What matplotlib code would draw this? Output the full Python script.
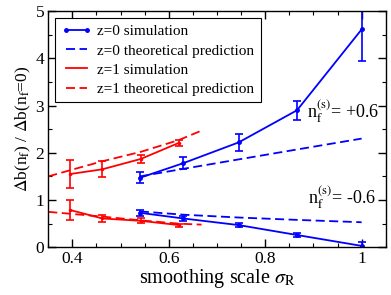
import matplotlib
matplotlib.use('Agg')
import matplotlib.pyplot as plt
from matplotlib.lines import Line2D
import numpy as np

plt.rcParams['font.family'] = ['Liberation Serif', 'DejaVu Serif']
plt.rcParams['mathtext.fontset'] = 'stix'

# z=0 simulation (blue), x = smoothing scale
x_z0 = [0.54, 0.63, 0.745, 0.866, 1.0]
z0_pos = [1.47, 1.78, 2.22, 2.90, 4.61]
z0_pos_err = [0.12, 0.13, 0.18, 0.20, 0.66]
z0_neg = [0.73, 0.61, 0.47, 0.26, 0.03]
z0_neg_err = [0.06, 0.06, 0.04, 0.05, 0.08]

# z=0 theoretical prediction
x_z0_th = [0.54, 0.63, 0.745, 0.866, 1.0]
z0_pos_th = [1.50, 1.66, 1.86, 2.07, 2.30]
z0_neg_th = [0.76, 0.69, 0.63, 0.58, 0.53]

# z=1 simulation (red)
x_z1 = [0.395, 0.462, 0.542, 0.621]
z1_pos = [1.55, 1.65, 1.87, 2.21]
z1_pos_err = [0.30, 0.17, 0.09, 0.06]
z1_neg = [0.79, 0.61, 0.56, 0.47]
z1_neg_err = [0.21, 0.08, 0.05, 0.03]

# z=1 theoretical prediction
x_z1_th = [0.35, 0.395, 0.462, 0.542, 0.621, 0.668]
z1_pos_th = [1.50, 1.63, 1.82, 2.02, 2.27, 2.47]
z1_neg_th = [0.75, 0.71, 0.65, 0.57, 0.50, 0.48]

labels = ['z=0 simulation', 'z=0 theoretical prediction',
          'z=1 simulation', 'z=1 theoretical prediction']

blue = '#0000ff'
red = '#ff0000'
dash = (0, (5, 2.5))

fig = plt.figure(figsize=(3.91, 2.95), dpi=100)
ax = fig.add_axes([0.1235, 0.1617, 0.863, 0.801])

lw = 1.3
eb = dict(capsize=2.8, elinewidth=1.2, capthick=1.2)

ax.errorbar(x_z0, z0_pos, yerr=z0_pos_err, color=blue, lw=lw, marker='o', ms=2.5, **eb)
ax.errorbar(x_z0, z0_neg, yerr=z0_neg_err, color=blue, lw=lw, marker='o', ms=2.5, **eb)
ax.plot(x_z0_th, z0_pos_th, color=blue, lw=lw, linestyle=dash)
ax.plot(x_z0_th, z0_neg_th, color=blue, lw=lw, linestyle=dash)

ax.errorbar(x_z1, z1_pos, yerr=z1_pos_err, color=red, lw=lw, marker='o', ms=1.5, **eb)
ax.errorbar(x_z1, z1_neg, yerr=z1_neg_err, color=red, lw=lw, marker='o', ms=1.5, **eb)
ax.plot(x_z1_th, z1_pos_th, color=red, lw=lw, linestyle=dash)
ax.plot(x_z1_th, z1_neg_th, color=red, lw=lw, linestyle=dash)

ax.set_xlim(0.35, 1.05)
ax.set_ylim(0, 5)
ax.set_xticks([0.4, 0.6, 0.8, 1.0])
ax.set_xticklabels(['0.4', '0.6', '0.8', '1'])
ax.set_xticks(np.arange(0.35, 1.051, 0.05), minor=True)
ax.set_yticks([0, 1, 2, 3, 4, 5])
ax.set_yticklabels(['0', '1', '2', '3', '4', '5'])
ax.set_yticks(np.arange(0, 5.01, 0.5), minor=True)
ax.tick_params(which='both', direction='in', top=True, right=True, labelsize=12.5, pad=3)
ax.tick_params(which='major', length=6, width=1)
ax.tick_params(which='minor', length=3, width=0.8)
for s in ax.spines.values():
    s.set_linewidth(1.0)

ax.set_xlabel(r'smoothing scale $\sigma_\mathrm{R}$', fontsize=14.5, labelpad=0)
ax.set_ylabel(r'$\Delta$b(n$_\mathrm{f}$) / $\Delta$b(n$_\mathrm{f}$=0)', fontsize=12.5, labelpad=2)

handles = [
    Line2D([], [], color=blue, lw=lw, marker='o', ms=2.5),
    Line2D([], [], color=blue, lw=lw, linestyle=dash),
    Line2D([], [], color=red, lw=lw),
    Line2D([], [], color=red, lw=lw, linestyle=dash),
]
leg = ax.legend(handles, labels, loc='upper left', fontsize=11, frameon=True, fancybox=False,
                edgecolor='black', framealpha=1, handlelength=2.0, handletextpad=0.35,
                borderpad=0.42, labelspacing=0.36, numpoints=2, borderaxespad=0,
                bbox_to_anchor=(0.02, 0.969))
leg.get_frame().set_linewidth(0.8)

ax.text(0.887, 2.75, r'n$_\mathrm{f}^{(\mathrm{s})}$= +0.6', fontsize=13)
ax.text(0.889, 0.93, r'n$_\mathrm{f}^{(\mathrm{s})}$= -0.6', fontsize=13)

fig.savefig('out.png', dpi=100)
